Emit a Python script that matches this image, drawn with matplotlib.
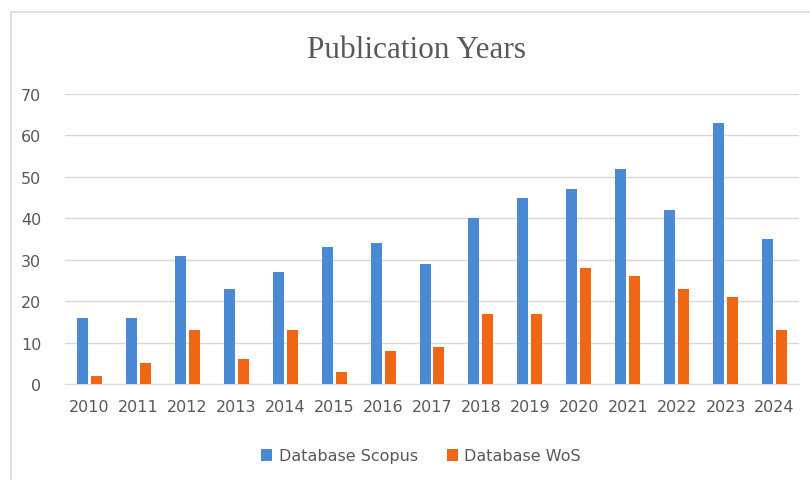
import matplotlib
matplotlib.use("Agg")
import matplotlib.pyplot as plt
import numpy as np
from matplotlib.patches import Rectangle

years = ["2010", "2011", "2012", "2013", "2014", "2015", "2016", "2017",
         "2018", "2019", "2020", "2021", "2022", "2023", "2024"]
scopus = [16, 16, 31, 23, 27, 33, 34, 29, 40, 45, 47, 52, 42, 63, 35]
wos = [2, 5, 13, 6, 13, 3, 8, 9, 17, 17, 28, 26, 23, 21, 13]
yticks = [0, 10, 20, 30, 40, 50, 60, 70]

W, H = 810, 481
fig = plt.figure(figsize=(W / 100, H / 100), dpi=100)
fig.patch.set_facecolor("white")

# light frame around the chart area
fig.patches.append(Rectangle((11 / W, -0.1), 1.2, 1 - 13 / H + 0.1,
                             transform=fig.transFigure, fill=False,
                             edgecolor="#d9d9d9", linewidth=1.2))

ax = fig.add_axes([65 / W, 1 - 385 / H, (799 - 65) / W, (385 - 95) / H])

blue = "#4a8ad4"
orange = "#ee6714"
text_gray = "#595959"

x = np.arange(len(years))
bw = 0.225
gap = 0.03
ax.bar(x - bw / 2 - gap, scopus, width=bw, color=blue, label="Database Scopus", zorder=3)
ax.bar(x + bw / 2 + gap, wos, width=bw, color=orange, label="Database WoS", zorder=3)

ax.set_xlim(-0.5, len(years) - 0.5)
ax.set_ylim(0, 70)
ax.set_yticks(yticks)
ax.set_xticks(x)
ax.set_xticklabels(years)
ax.grid(axis="y", color="#d9d9d9", linewidth=1.0, zorder=0)
for s in ["top", "right", "left"]:
    ax.spines[s].set_visible(False)
ax.spines["bottom"].set_color("#d9d9d9")
ax.tick_params(axis="both", length=0, labelsize=11.5, labelcolor=text_gray)
ax.tick_params(axis="y", pad=17)
ax.tick_params(axis="x", pad=11)

fig.text(416 / W, 1 - 50 / H, "Publication Years", ha="center", va="center",
         family="Liberation Serif", fontsize=22.5, color=text_gray)

fig.legend(loc="center", bbox_to_anchor=(421 / W, 1 - 457 / H), ncol=2,
           frameon=False, fontsize=11.5, labelcolor=text_gray,
           handlelength=0.7, handleheight=0.7, handletextpad=0.4,
           columnspacing=1.8)

fig.savefig("out.png", dpi=100, facecolor="white")
